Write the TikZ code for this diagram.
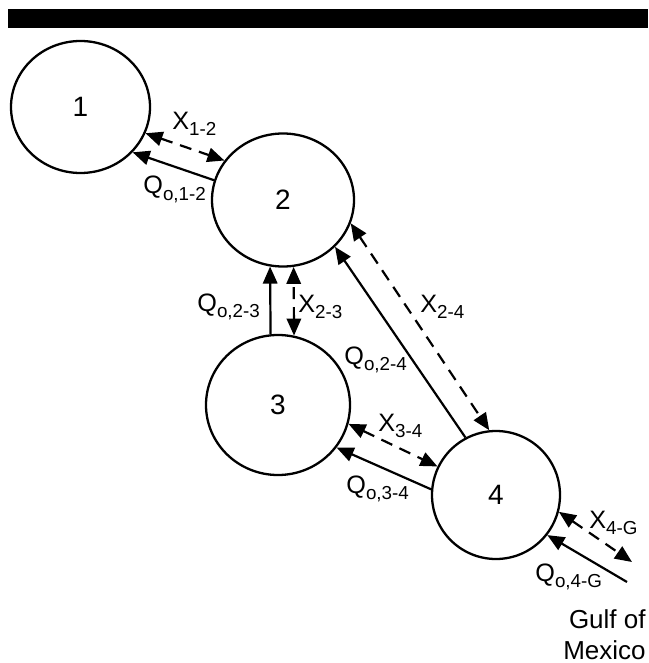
\documentclass[tikz,border=0pt]{standalone}
\usepackage{fontspec}
\setmainfont{Liberation Sans}
\usetikzlibrary{arrows.meta,shapes.geometric}
\newcommand{\lsub}[1]{\raisebox{-3pt}{\fontsize{9.4}{10}\selectfont #1}}
\begin{document}
\begin{tikzpicture}[x=0.5pt,y=-0.5pt,
  box/.style={ellipse, draw, line width=1.15pt, inner sep=0pt, font=\fontsize{14}{16}\selectfont},
  flow/.style={line width=1.1pt, -{Triangle[length=8.5pt,width=7.2pt]}},
  mix/.style={line width=1.1pt, dash pattern=on 6pt off 4pt, {Triangle[length=8.5pt,width=7.2pt]}-{Triangle[length=8.5pt,width=7.2pt]}},
  lab/.style={anchor=base west, inner sep=0pt, font=\fontsize{12.6}{14}\selectfont},
  gulf/.style={anchor=base east, inner sep=0pt, font=\fontsize{13}{15}\selectfont}]
\useasboundingbox (0,0) rectangle (648,663);
\fill (8,9) rectangle (648,28);
\node[box, minimum width=69.5pt, minimum height=66pt] (c1) at (80.5,107) {1};
\node[box, minimum width=71pt, minimum height=66.5pt] (c2) at (283,200) {2};
\node[box, minimum width=72pt, minimum height=70pt] (c3) at (278,405) {3};
\node[box, minimum width=64pt, minimum height=64pt] (c4) at (496,495) {4};
\coordinate (g1) at (632,562);
\coordinate (g2) at (627,582);
\draw[mix] (c1.-22.8) -- (c2.146.3);
\draw[flow] (c2.164) -- (c1.-41.4);
\draw[flow] (c3.96.6) -- (c2.-101.2);
\draw[mix] (c3.77.6) -- (c2.-81.4);
\draw[flow] (c4.118.5) -- (c2.-42.7);
\draw[mix] (c2.-19.5) -- (c4.96.8);
\draw[mix] (c3.-15.9) -- (c4.154.6);
\draw[flow] (c4.175.7) -- (c3.-36.1);
\draw[mix] (c4.-15.6) -- (g1);
\draw[flow] (g2) -- (c4.-38.9);
\node[lab] (lx12) at (172,130) {X\lsub{1-2}};
\node[lab] (lq12) at (143,194) {Q\lsub{o,1-2}};
\node[lab] (lq23) at (197,311) {Q\lsub{o,2-3}};
\node[lab] (lx23) at (298,312) {X\lsub{2-3}};
\node[lab] (lx24) at (420,312) {X\lsub{2-4}};
\node[lab] (lq24) at (344,364) {Q\lsub{o,2-4}};
\node[lab] (lx34) at (378,431) {X\lsub{3-4}};
\node[lab] (lq34) at (346,493) {Q\lsub{o,3-4}};
\node[lab] (lx4g) at (589,528) {X\lsub{4-G}};
\node[lab] (lq4g) at (535,581) {Q\lsub{o,4-G}};
\node[gulf] (gulf1) at (646,628) {Gulf of};
\node[gulf] (gulf2) at (646,659) {Mexico};
\end{tikzpicture}
\end{document}
